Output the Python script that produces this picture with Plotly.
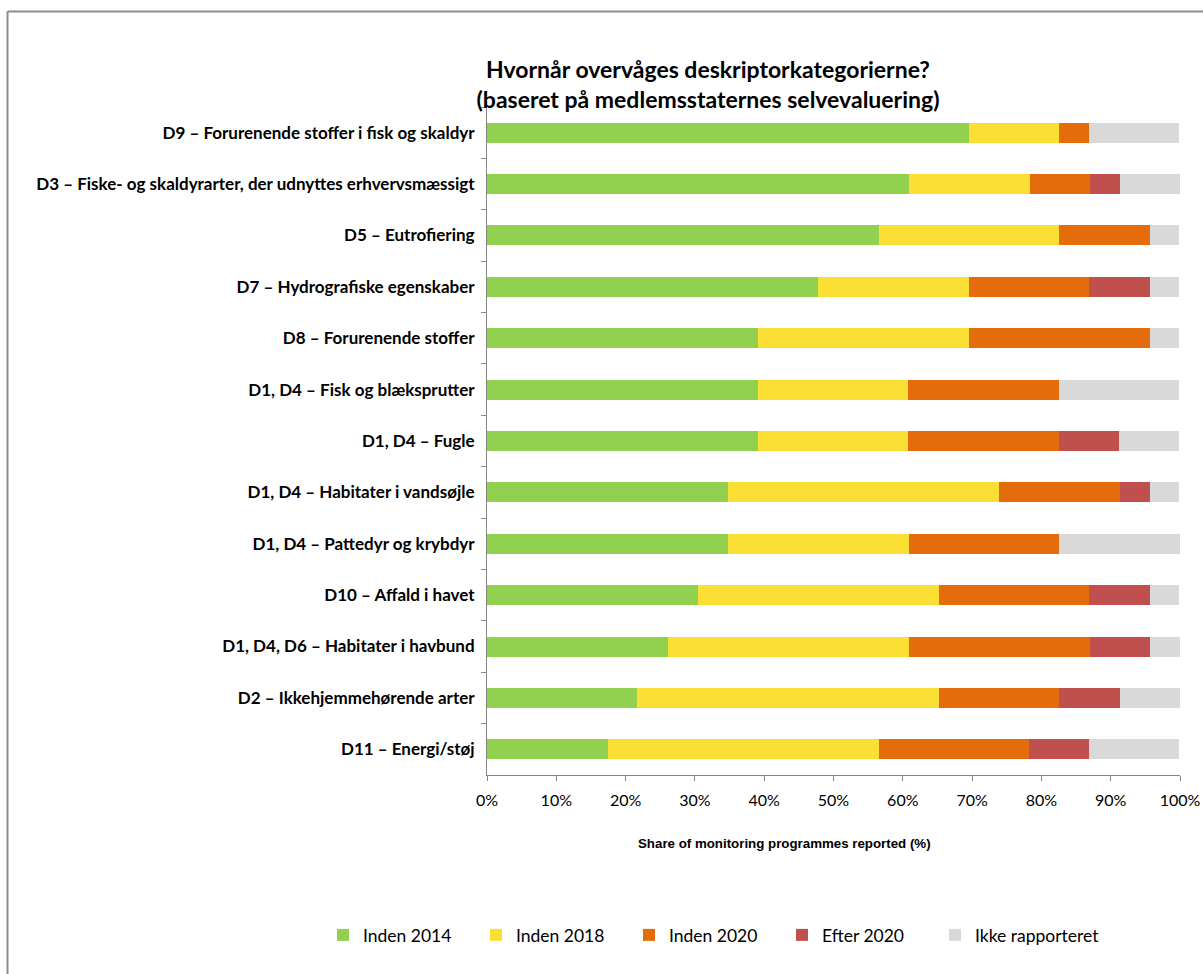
import plotly.graph_objects as go

categories = [
    "D9 – Forurenende stoffer i fisk og skaldyr",
    "D3 – Fiske- og skaldyrarter, der udnyttes erhvervsmæssigt",
    "D5 – Eutrofiering",
    "D7 – Hydrografiske egenskaber",
    "D8 – Forurenende stoffer",
    "D1, D4 – Fisk og blæksprutter",
    "D1, D4 – Fugle",
    "D1, D4 – Habitater i vandsøjle",
    "D1, D4 – Pattedyr og krybdyr",
    "D10 – Affald i havet",
    "D1, D4, D6 – Habitater i havbund",
    "D2 – Ikkehjemmehørende arter",
    "D11 – Energi/støj",
]

inden_2014 = [69.6, 60.9, 56.5, 47.8, 39.1, 39.1, 39.1, 34.8, 34.8, 30.4, 26.1, 21.7, 17.4]
inden_2018 = [13.0, 17.4, 26.1, 21.7, 30.4, 21.7, 21.7, 39.1, 26.1, 34.8, 34.8, 43.5, 39.1]
inden_2020 = [4.3, 8.7, 13.0, 17.4, 26.1, 21.7, 21.7, 17.4, 21.7, 21.7, 26.1, 17.4, 21.7]
efter_2020 = [0.0, 4.3, 0.0, 8.7, 0.0, 0.0, 8.7, 4.3, 0.0, 8.7, 8.7, 8.7, 8.7]
ikke_rapporteret = [13.0, 8.7, 4.3, 4.3, 4.3, 17.4, 8.7, 4.3, 17.4, 4.3, 4.3, 8.7, 13.0]

# (name, values, colour, legend group box)
series = [
    ("Inden 2014", inden_2014, "#92D050", "legend"),
    ("Inden 2018", inden_2018, "#FCDF35", "legend"),
    ("Inden 2020", inden_2020, "#E46C0A", "legend"),
    ("Efter 2020", efter_2020, "#C0504D", "legend"),
    ("Ikke rapporteret", ikke_rapporteret, "#D9D9D9", "legend2"),
]

x_ticks = [0, 10, 20, 30, 40, 50, 60, 70, 80, 90, 100]
x_tick_labels = [f"{v}%" for v in x_ticks]

W, H = 1203, 974
L, R, T, B = 487, 1180, 107, 775  # plot area in pixels
LEGEND_X0, LEGEND_STEP = 323, 153  # legend entry start and spacing in pixels


def px_x(px):
    return (px - L) / (R - L)


def px_y(py):
    return (B - py) / (B - T)


fig = go.Figure()
for name, vals, color, leg in series:
    fig.add_trace(go.Bar(
        y=categories, x=vals, name=name, orientation="h",
        marker=dict(color=color, line=dict(width=0)),
        legend=leg,
        hovertemplate="%{y}<br>" + name + ": %{x:.1f}%<extra></extra>",
    ))

label_font = "Lato, 'Open Sans', sans-serif"
legend_font = dict(family=label_font, size=17.5, color="black")

fig.update_layout(
    width=W, height=H,
    barmode="stack",
    bargap=0.61,
    plot_bgcolor="white",
    paper_bgcolor="white",
    margin=dict(l=L, r=W - R, t=T, b=H - B, pad=0, autoexpand=False),
    font=dict(family=label_font, color="black"),
    title=dict(
        text="Hvornår overvåges deskriptorkategorierne?<br>(baseret på medlemsstaternes selvevaluering)",
        x=708 / W, xanchor="center", xref="container",
        y=1 - 78 / H, yanchor="middle", yref="container",
        font=dict(family=label_font, size=23, color="black", weight="bold"),
    ),
    xaxis=dict(
        range=[0, 100], tickvals=x_ticks, ticktext=x_tick_labels,
        showgrid=False, zeroline=False, automargin=False,
        showline=True, linecolor="#868686", linewidth=1,
        ticks="outside", ticklen=5, tickcolor="#868686",
        ticklabelstandoff=6,
        tickfont=dict(family=label_font, size=16, color="black"),
        fixedrange=True,
    ),
    yaxis=dict(
        autorange="reversed", automargin=False,
        showgrid=False, zeroline=False,
        showline=True, linecolor="#868686", linewidth=1,
        ticks="outside", ticklen=5, tickcolor="#868686",
        tickson="boundaries",
        ticklabelstandoff=8,
        tickfont=dict(family=label_font, size=17, color="black", weight="bold"),
        fixedrange=True,
    ),
    legend=dict(
        orientation="h", traceorder="normal",
        x=px_x(LEGEND_X0), xanchor="left",
        y=px_y(935), yanchor="middle",
        entrywidth=LEGEND_STEP - 45, entrywidthmode="pixels",
        font=legend_font,
        itemclick=False, itemdoubleclick=False,
    ),
    legend2=dict(
        orientation="h", traceorder="normal",
        x=px_x(LEGEND_X0 + 4 * LEGEND_STEP), xanchor="left",
        y=px_y(935), yanchor="middle",
        font=legend_font,
        itemclick=False, itemdoubleclick=False,
    ),
    annotations=[
        dict(
            text="<b>Share of monitoring programmes reported (%)</b>",
            x=px_x(784), y=px_y(843), xref="paper", yref="paper",
            xanchor="center", yanchor="middle", showarrow=False,
            font=dict(family="'Liberation Sans', Arial, sans-serif",
                      size=13.3, color="black"),
        )
    ],
    shapes=[
        # chart frame: top and left edges
        dict(type="line", xref="paper", yref="paper",
             x0=px_x(7.5), x1=px_x(1210), y0=px_y(11.5), y1=px_y(11.5),
             line=dict(color="#8C8C8C", width=2)),
        dict(type="line", xref="paper", yref="paper",
             x0=px_x(7.5), x1=px_x(7.5), y0=px_y(11.5), y1=px_y(985),
             line=dict(color="#8C8C8C", width=2)),
    ],
)

fig.write_html("out.html")
